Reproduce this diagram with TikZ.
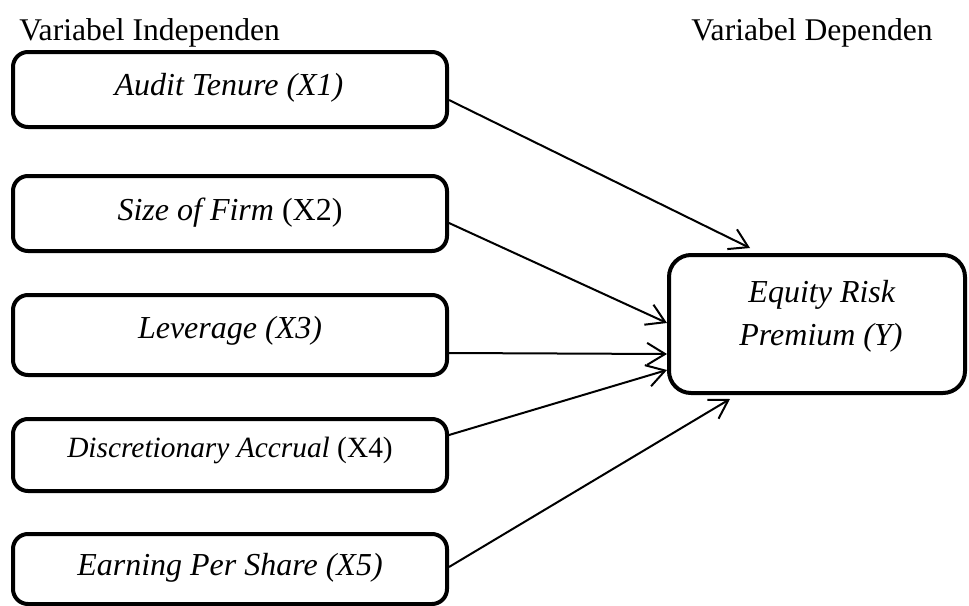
\documentclass[tikz,border=0pt]{standalone}
\usepackage{fontspec}
\setmainfont{Liberation Serif}
\usetikzlibrary{arrows.meta,calc}
\begin{document}
\begin{tikzpicture}[x=0.5pt,y=-0.5pt,
  varbox/.style={draw, line width=2pt, rounded corners=7.5pt, minimum width=217pt, inner sep=0pt},
  depbox/.style={draw, line width=2pt, rounded corners=11pt, minimum width=148pt, minimum height=69pt, inner sep=0pt},
  txt/.style={anchor=base, inner sep=0pt, font=\fontsize{16}{19}\selectfont},
  head/.style={anchor=base west, inner sep=0pt, font=\fontsize{15.8}{19}\selectfont},
  conn/.style={line width=1pt, -{Straight Barb[length=9pt,width=11pt,line width=1pt]}}
]
\useasboundingbox (0,0) rectangle (969,605);
\node[head] (hi) at (19,40) {Variabel Independen};
\node[head] (hd) at (691,40) {Variabel Dependen};

\node[varbox, minimum height=37.5pt] (x1) at (230,89.5) {};
\node[varbox, minimum height=37.5pt] (x2) at (230,213.5) {};
\node[varbox, minimum height=40pt] (x3) at (230,335) {};
\node[varbox, minimum height=36pt] (x4) at (230,455) {};
\node[varbox, minimum height=35pt] (x5) at (230,569) {};
\node[depbox] (y) at (817,324) {};

\node[txt] (t1) at (229,95) {\textit{Audit Tenure (X1)}};
\node[txt] (t2) at (230,220) {\textit{Size of Firm} (X2)};
\node[txt] (t3) at (230,338) {\textit{Leverage (X3)}};
\node[txt, font=\fontsize{14.7}{18}\selectfont] (t4) at (230,457) {\textit{Discretionary Accrual} (X4)};
\node[txt] (t5) at (230,575) {\textit{Earning Per Share (X5)}};
\node[txt] (ty1) at (822,302) {\textit{Equity Risk}};
\node[txt] (ty2) at (821,345) {\textit{Premium (Y)}};

\draw[conn] ($(x1.east)+(0,10.5)$) -- ($(y.north west)+(83,-5)$);
\draw[conn] ($(x2.east)+(0,9.5)$) -- ($(y.west)+(0,-1)$);
\draw[conn] ($(x3.east)+(0,18)$) -- ($(y.west)+(0,30)$);
\draw[conn] ($(x4.east)+(0,-20)$) -- ($(y.west)+(0,46)$);
\draw[conn] ($(x5.east)+(0,-2)$) -- ($(y.south west)+(63,4)$);
\end{tikzpicture}
\end{document}
